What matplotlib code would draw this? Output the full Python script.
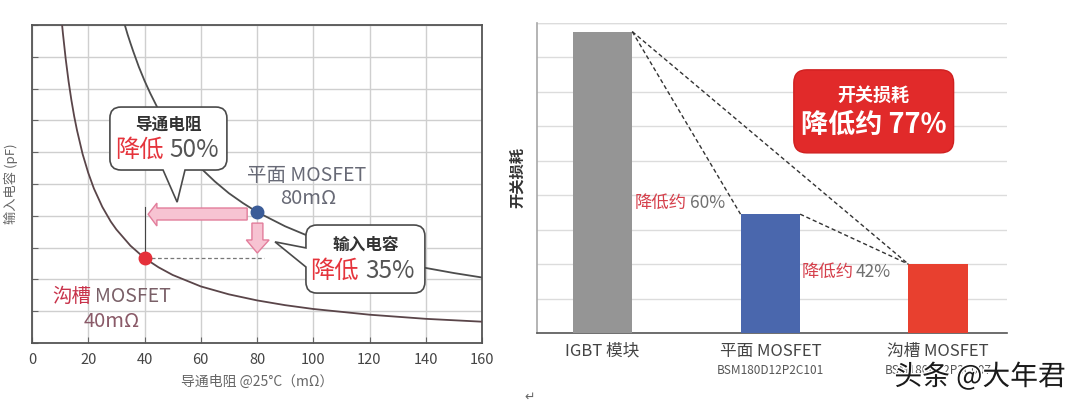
import matplotlib
matplotlib.use("Agg")
import matplotlib.pyplot as plt
from matplotlib.path import Path
from matplotlib.patches import PathPatch, Polygon
import matplotlib.patheffects as pe

plt.rcParams['font.family'] = ['Noto Sans CJK SC', 'DejaVu Sans']

# ---- left: input capacitance vs on-resistance ----
planar_r = [33, 34, 35, 36, 38, 40, 42, 45, 48, 50, 55, 60, 65, 70, 75, 80,
            90, 100, 110, 120, 130, 140, 150, 160]
planar_c = [10.0, 9.7, 9.43, 9.17, 8.68, 8.25, 7.86, 7.33, 6.88, 6.6, 6.0, 5.5, 5.08, 4.71,
            4.4, 4.12, 3.67, 3.3, 3.0, 2.75, 2.54, 2.36, 2.2, 2.06]
trench_r = [10.7, 11, 12, 13, 14, 15, 16, 18, 20, 22, 25, 28, 30, 35, 40, 45, 50, 60,
            70, 80, 90, 100, 120, 140, 160]
trench_c = [10.0, 9.73, 8.92, 8.23, 7.64, 7.13, 6.69, 5.94, 5.35, 4.86, 4.28, 3.82, 3.57,
            3.06, 2.67, 2.38, 2.14, 1.78, 1.53, 1.34, 1.19, 1.07, 0.89, 0.76, 0.67]
planar_pt = (80, 4.12)
trench_pt = (40, 2.67)
x_ticks = [0, 20, 40, 60, 80, 100, 120, 140, 160]

# ---- right: switching loss ----
devices = ["IGBT 模块", "平面 MOSFET", "沟槽 MOSFET"]
part_numbers = ["", "BSM180D12P2C101", "BSM180D12P3C007"]
switching_loss = [8.75, 3.45, 2.0]
bar_colors = ["#959595", "#4a67ad", "#e8402f"]

fig = plt.figure(figsize=(10.8, 4.05), dpi=100)
fig.patch.set_facecolor("white")


def rounded_shape(ax, x0, x1, y0, y1, sx, sy, r=10, tail=(), side=None, **kw):
    """Rounded box (optionally with a pointer tail) in data coords; r in pixels."""
    rx, ry = r / sx, r / sy
    V, C = [], []

    def ln(p):
        V.append(p); C.append(Path.LINETO)

    def cv(ctrl, p):
        V.extend([ctrl, p]); C.extend([Path.CURVE3, Path.CURVE3])

    V.append((x0 + rx, y0)); C.append(Path.MOVETO)
    if side == "bottom":
        for p in tail:
            ln(p)
    ln((x1 - rx, y0))
    cv((x1, y0), (x1, y0 + ry))
    ln((x1, y1 - ry))
    cv((x1, y1), (x1 - rx, y1))
    ln((x0 + rx, y1))
    cv((x0, y1), (x0, y1 - ry))
    if side == "left":
        for p in tail:
            ln(p)
    ln((x0, y0 + ry))
    cv((x0, y0), (x0 + rx, y0))
    V.append((x0 + rx, y0)); C.append(Path.CLOSEPOLY)
    ax.add_patch(PathPatch(Path(V, C), **kw))


ax = fig.add_axes([32/1080, 1-343/405, 450/1080, 318/405])
ax.set_xlim(0, 160)
ax.set_ylim(0, 10)
ax.set_xticks(x_ticks)
ax.set_yticks(range(0, 11))
ax.set_yticklabels([])
ax.grid(True, color="#cfcfcf", lw=1.0)
ax.set_axisbelow(True)
for s in ax.spines.values():
    s.set_color("#555555")
    s.set_linewidth(1.3)
ax.tick_params(axis="both", direction="in", length=4, color="#666666",
               labelsize=10.5, labelcolor="#444444", pad=7)
ax.set_xlabel("导通电阻 @25°C（mΩ）", fontsize=10, color="#666666", labelpad=6)
ax.set_ylabel("输入电容 (pF)", fontsize=9.5, color="#666666", labelpad=3)

ax.plot(planar_r, planar_c, color="#4d4d4d", lw=1.3, zorder=3)
ax.plot(trench_r, trench_c, color="#5a4549", lw=1.3, zorder=3)

# guides from the trench point
ax.plot([trench_pt[0], trench_pt[0]], [trench_pt[1], 4.28], color="#444444", lw=0.8, zorder=3)
ax.plot([trench_pt[0], 82.5], [trench_pt[1], trench_pt[1]], color="#777777", lw=0.9,
        ls=(0, (3, 2)), zorder=3)

SX = 450 / 160.0
SY = 318 / 10.0

left_arrow = [(76.5, 4.245), (44.4, 4.245), (44.4, 4.40), (41.3, 4.05),
              (44.4, 3.68), (44.4, 3.868), (76.5, 3.868)]
ax.add_patch(Polygon(left_arrow, closed=True, fc="#f7c3d2", ec="#e27d9b", lw=1.0, zorder=4))
down_arrow = [(78.2, 3.77), (82.1, 3.77), (82.1, 3.24), (84.3, 3.24), (80.1, 2.83),
              (76.2, 3.24), (78.2, 3.24)]
ax.add_patch(Polygon(down_arrow, closed=True, fc="#f7c3d2", ec="#e27d9b", lw=1.0, zorder=4))

ax.plot(*planar_pt, "o", ms=9, color="#3b5c98", zorder=5)
ax.plot(*trench_pt, "o", ms=9, color="#e5303a", zorder=5)

box_style = dict(fc="white", ec="#4a4a4a", lw=1.2, zorder=6)
rounded_shape(ax, 27.7, 69.3, 5.44, 7.42, SX, SY, r=11,
              tail=[(46.6, 5.44), (51.6, 4.43), (54.4, 5.44)], side="bottom", **box_style)
ax.text(48.5, 6.86, "导通电阻", ha="center", va="center", fontsize=12, fontweight="bold",
        color="#333333", zorder=7)
ax.text(46.9, 6.07, "降低", ha="right", va="center", fontsize=17.5, color="#e5343c", zorder=7)
ax.text(49.0, 6.07, "50%", ha="left", va="center", fontsize=17.5, color="#555555", zorder=7)

rounded_shape(ax, 97.4, 139.7, 1.57, 3.71, SX, SY, r=11,
              tail=[(97.4, 2.99), (86.4, 3.18), (97.4, 2.39)], side="left", **box_style)
ax.text(118.8, 3.08, "输入电容", ha="center", va="center", fontsize=12, fontweight="bold",
        color="#333333", zorder=7)
ax.text(116.3, 2.26, "降低", ha="right", va="center", fontsize=17.5, color="#e5343c", zorder=7)
ax.text(118.6, 2.26, "35%", ha="left", va="center", fontsize=17.5, color="#555555", zorder=7)

ax.text(97.8, 5.28, "平面 MOSFET", ha="center", va="center", fontsize=14, color="#686a76", zorder=7)
ax.text(98.2, 4.53, "80mΩ", ha="center", va="center", fontsize=14.5, color="#686a76", zorder=7)
ax.text(21.0, 1.45, "沟槽", ha="right", va="center", fontsize=14, color="#c8324a", zorder=7)
ax.text(22.3, 1.45, "MOSFET", ha="left", va="center", fontsize=14, color="#7a6068", zorder=7)
ax.text(28.4, 0.69, "40mΩ", ha="center", va="center", fontsize=14.5, color="#8a5a68", zorder=7)

# ---- right panel ----
bx = fig.add_axes([537/1080, 1-333/405, 470/1080, 310/405])
pos = list(range(len(devices)))
w = 0.355
bx.bar(pos, switching_loss, width=w, color=bar_colors, zorder=3)
bx.set_xlim(-0.39, 2.41)
bx.set_ylim(0, 9)
bx.set_yticks(range(0, 10))
bx.set_yticklabels([])
bx.grid(True, axis="y", color="#dcdcdc", lw=1.0)
bx.set_axisbelow(True)
bx.spines["top"].set_visible(False)
bx.spines["right"].set_visible(False)
bx.spines["left"].set_color("#a8a8a8")
bx.spines["left"].set_linewidth(1.2)
bx.spines["bottom"].set_color("#555555")
bx.spines["bottom"].set_linewidth(1.2)
bx.tick_params(axis="both", length=0)
bx.axhline(9, color="#dcdcdc", lw=1.0, zorder=0)
bx.set_xticks(pos)
bx.set_xticklabels(devices, fontsize=12, color="#444444")
bx.tick_params(axis="x", pad=7)
for p, pn in zip(pos, part_numbers):
    if pn:
        bx.text(p, -0.12, pn, transform=bx.get_xaxis_transform(), ha="center", va="center",
                fontsize=8.5, color="#555555")
bx.set_ylabel("开关损耗", fontsize=11, fontweight="bold", color="#333333", labelpad=5)

dash = dict(color="#333333", lw=1.0, ls=(0, (3, 2)), zorder=4)
bx.plot([0 + w/2, 1 - w/2], [switching_loss[0], switching_loss[1]], **dash)
bx.plot([0 + w/2, 2 - w/2], [switching_loss[0], switching_loss[2]], **dash)
bx.plot([1 + w/2, 2 - w/2], [switching_loss[1], switching_loss[2]], **dash)

bx.text(0.193, 3.77, "降低约", ha="left", va="center", fontsize=12.5, color="#d5404c", zorder=5)
bx.text(0.52, 3.77, "60%", ha="left", va="center", fontsize=12.5, color="#707070", zorder=5)
bx.text(1.184, 1.77, "降低约", ha="left", va="center", fontsize=12.5, color="#d5404c", zorder=5)
bx.text(1.51, 1.77, "42%", ha="left", va="center", fontsize=12.5, color="#707070", zorder=5)

BSX = 470 / 2.8
BSY = 310 / 9.0
rounded_shape(bx, 1.14, 2.092, 5.23, 7.64, BSX, BSY, r=13,
              fc="#e12a2a", ec="#d02020", lw=1, zorder=5)
bx.text(1.616, 6.91, "开关损耗", ha="center", va="center", fontsize=13, fontweight="bold",
        color="white", zorder=6)
bx.text(1.616, 6.04, "降低约 77%", ha="center", va="center", fontsize=19.5, fontweight="bold",
        color="white", zorder=6)

fig.text(980/1080, 1-377/405, "头条 @大年君", ha="center", va="center", fontsize=20,
         color="#1a1a1a", path_effects=[pe.withStroke(linewidth=2, foreground="white")])
fig.text(530/1080, 1-397/405, "↵", ha="center", va="center", fontsize=9, color="#666666")

fig.savefig("out.png", dpi=100, facecolor="white")
